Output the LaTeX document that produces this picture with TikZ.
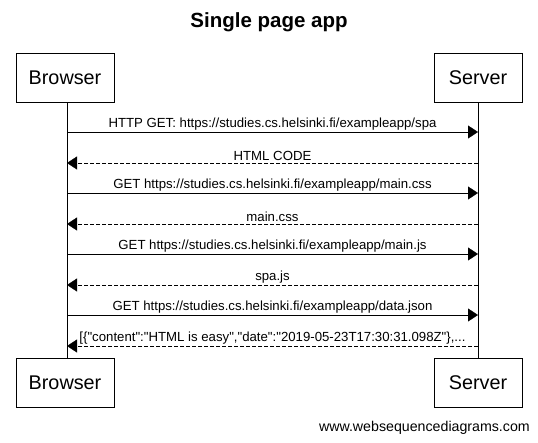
\documentclass[tikz,border=0pt]{standalone}
\usepackage{fontspec}
\setmainfont{Liberation Sans}
\usetikzlibrary{arrows.meta}

\tikzset{
  actor/.style={draw, thin, minimum width=98pt, minimum height=49pt, inner sep=0pt, font=\fontsize{19.8}{23}\selectfont},
  lifeline/.style={draw, thin},
  request/.style={thin, -{Triangle[length=10pt,width=13pt]}},
  reply/.style={thin, dash pattern=on 4pt off 2pt, -{Triangle[length=10pt,width=13pt]}},
  msg/.style={midway, above, inner sep=2pt, font=\fontsize{13.2}{15}\selectfont}
}

\begin{document}
\begin{tikzpicture}[x=1pt, y=-1pt]
\useasboundingbox (0,0) rectangle (538,442);

%title
\node[font=\bfseries\fontsize{20.5}{24}\selectfont] (title) at (269,22) {Single page app};

%actors
\node[actor] (browsertop) at (65,77.5) {Browser};
\node[actor, minimum width=88pt] (servertop) at (478,77.5) {Server};
\node[actor] (browserbot) at (65,382.5) {Browser};
\node[actor, minimum width=88pt] (serverbot) at (478,382.5) {Server};

%lifelines
\draw[lifeline] (67,102) coordinate (bl) -- (67,358);
\draw[lifeline] (servertop.south) -- (serverbot.north);

%lifeline points
\coordinate (b1) at (67,132); \coordinate (s1) at (478,132);
\coordinate (b2) at (67,163); \coordinate (s2) at (478,163);
\coordinate (b3) at (67,193); \coordinate (s3) at (478,193);
\coordinate (b4) at (67,224); \coordinate (s4) at (478,224);
\coordinate (b5) at (67,254); \coordinate (s5) at (478,254);
\coordinate (b6) at (67,285); \coordinate (s6) at (478,285);
\coordinate (b7) at (67,315); \coordinate (s7) at (478,315);
\coordinate (b8) at (67,346); \coordinate (s8) at (478,346);

%messages
\draw[request] (b1) -- node[msg] (m1) {HTTP GET: https://studies.cs.helsinki.fi/exampleapp/spa} (s1);
\draw[reply] (s2) -- node[msg] (m2) {HTML CODE} (b2);
\draw[request] (b3) -- node[msg] (m3) {GET https://studies.cs.helsinki.fi/exampleapp/main.css} (s3);
\draw[reply] (s4) -- node[msg] (m4) {main.css} (b4);
\draw[request] (b5) -- node[msg] (m5) {GET https://studies.cs.helsinki.fi/exampleapp/main.js} (s5);
\draw[reply] (s6) -- node[msg] (m6) {spa.js} (b6);
\draw[request] (b7) -- node[msg] (m7) {GET https://studies.cs.helsinki.fi/exampleapp/data.json} (s7);
\draw[reply] (s8) -- node[msg] (m8) {[\{\textquotedbl content\textquotedbl:\textquotedbl HTML is easy\textquotedbl,\textquotedbl date\textquotedbl:\textquotedbl 2019-05-23T17:30:31.098Z\textquotedbl\},...} (b8);

%footer
\node[anchor=base east, inner sep=0pt, font=\fontsize{14.2}{17}\selectfont] (footer) at (530,431) {www.websequencediagrams.com};

\end{tikzpicture}
\end{document}
